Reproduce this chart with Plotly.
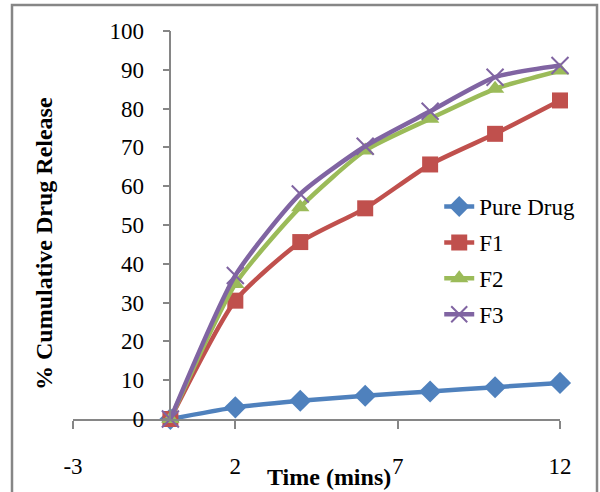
import plotly.graph_objects as go

time_min = [0, 2, 4, 6, 8, 10, 12]
pure_drug = [0, 3.0, 4.7, 6.0, 7.1, 8.2, 9.3]
f1 = [0, 30.5, 45.6, 54.3, 65.6, 73.5, 82.1]
f2 = [0, 34.8, 54.6, 69.2, 77.4, 85.1, 89.8]
f3 = [0, 37.0, 58.0, 70.3, 79.3, 88.1, 91.1]

x_tick_vals = [-3, 2, 7, 12]
x_tick_text = ["-3", "2", "7", "12"]

series_names = ["Pure Drug", "F1", "F2", "F3"]
series_values = [pure_drug, f1, f2, f3]
colors = ["#4F81BD", "#C0504D", "#9BBB59", "#8064A2"]
symbols = ["diamond", "square", "triangle-up", "x-thin"]
sizes = [17, 16, 16, 17]

FONT = "Liberation Serif, Times New Roman, serif"
GRAY = "#868686"

fig = go.Figure()
for i, (name, vals) in enumerate(zip(series_names, series_values)):
    marker = dict(symbol=symbols[i], size=sizes[i], color=colors[i])
    if symbols[i] == "x-thin":
        marker["line"] = dict(color=colors[i], width=2)
    fig.add_trace(go.Scatter(
        x=time_min, y=vals, name=name, mode="lines+markers",
        line=dict(color=colors[i], width=4.5, shape="spline", smoothing=0.6),
        marker=marker, cliponaxis=False, legendgroup=name,
    ))

fig.update_layout(
    width=600, height=492,
    margin=dict(l=73, r=40, t=31, b=73),
    paper_bgcolor="white", plot_bgcolor="white",
    font=dict(family=FONT, size=22, color="black"),
    showlegend=True,
    legend=dict(x=0.752, y=0.603, xanchor="left", yanchor="top",
                bgcolor="rgba(0,0,0,0)", font=dict(size=23, family=FONT),
                tracegroupgap=3),
    xaxis=dict(range=[-3, 12], tickvals=x_tick_vals, ticktext=x_tick_text,
               showgrid=False, zeroline=False,
               showline=True, linecolor=GRAY, linewidth=1.5,
               ticks="outside", ticklen=8, tickwidth=1.5, tickcolor=GRAY,
               ticklabelstandoff=18, tickfont=dict(size=23, family=FONT)),
    yaxis=dict(range=[0, 100], dtick=10, showgrid=False, zeroline=False,
               anchor="free", position=0.2,
               showline=True, linecolor=GRAY, linewidth=1.5,
               ticks="outside", ticklen=7, tickwidth=1.5, tickcolor=GRAY,
               ticklabelstandoff=14, tickfont=dict(size=23, family=FONT)),
    annotations=[
        dict(text="<b>Time (mins)</b>", xref="paper", yref="paper",
             x=0.526, y=-0.149, showarrow=False, xanchor="center", yanchor="middle",
             font=dict(size=24, family=FONT)),
        dict(text="<b>% Cumulative Drug Release</b>", xref="paper", yref="paper",
             x=-0.0595, y=0.451, showarrow=False, textangle=-90,
             xanchor="center", yanchor="middle", font=dict(size=24, family=FONT)),
    ],
    shapes=[
        dict(type="rect", xref="paper", yref="paper",
             x0=(12 - 73) / 487, x1=(597 - 73) / 487,
             y0=(419 - 520) / 388, y1=(419 - 5) / 388,
             line=dict(color=GRAY, width=2.5), fillcolor="rgba(0,0,0,0)", layer="below"),
    ],
)

fig.write_html("out.html")
